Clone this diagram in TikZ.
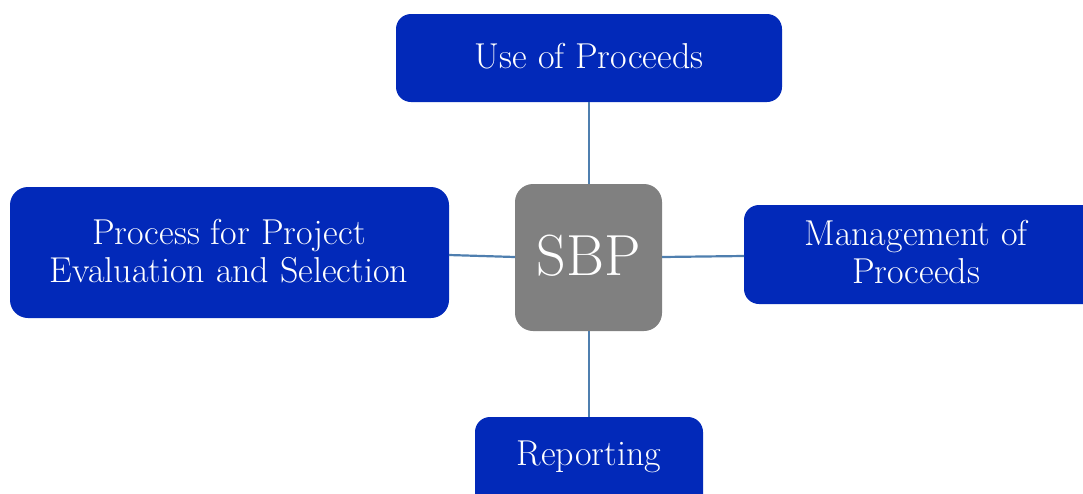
\documentclass[tikz,border=0pt]{standalone}
\usepackage{fontspec}
\setmainfont{Latin Modern Roman}
\definecolor{boxblue}{HTML}{0229B9}
\definecolor{linkblue}{HTML}{4F7FAF}
\definecolor{sbpgray}{HTML}{808080}
\begin{document}
\begin{tikzpicture}[x=1pt,y=-1pt,
  boxtext/.style={text=white,align=center,inner sep=0pt,
    font=\fontsize{36}{38}\selectfont},
  link/.style={draw=linkblue,line width=2.2pt}]
\useasboundingbox (0,0) rectangle (1083,493);
\fill[boxblue,rounded corners=15pt] (396,14) rectangle (782,102);
\node[boxtext] (top) at (589,56) {Use of Proceeds};
\coordinate (topb) at (589,102);
\fill[boxblue,rounded corners=18pt] (10,187) rectangle (449,318);
\node[boxtext] (left) at (229,251) {Process for Project\\Evaluation and Selection};
\coordinate (leftb) at (449,255);
\fill[boxblue,rounded corners=15pt] (744,205) rectangle (1100,304);
\node[boxtext] (right) at (916,252) {Management of\\Proceeds};
\coordinate (rightb) at (744,256);
\fill[boxblue,rounded corners=15pt] (475,417) rectangle (703,520);
\node[boxtext] (bot) at (589,457) {Reporting};
\coordinate (botb) at (589,417);
\fill[sbpgray,rounded corners=18pt] (515,184) rectangle (662,331);
\node[text=white,inner sep=0pt,font=\fontsize{58}{66}\selectfont] (sbp) at (588.5,256) {SBP};
\coordinate (ct) at (589,184);
\coordinate (cb) at (589,331);
\coordinate (cl) at (515,257);
\coordinate (cr) at (662,257);
\draw[link] (topb) -- (ct);
\draw[link] (leftb) -- (cl);
\draw[link] (cr) -- (rightb);
\draw[link] (cb) -- (botb);
\end{tikzpicture}
\end{document}
